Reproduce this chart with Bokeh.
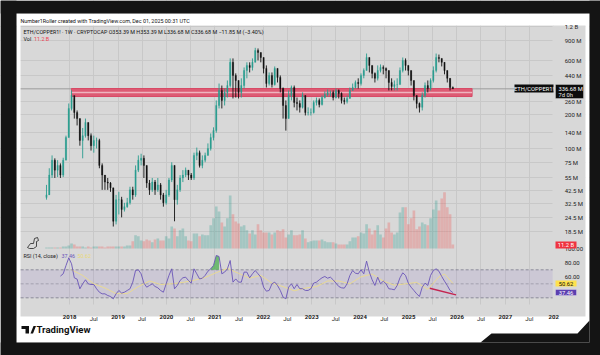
import numpy as np
import pandas as pd
from bokeh.embed import file_html
from bokeh.models import (BoxAnnotation, ColumnDataSource, FixedTicker, Label, LinearAxis, LinearScale,
                          PolyAnnotation, Range1d)
from bokeh.plotting import figure
from bokeh.resources import INLINE

HEADER = "Number1Roller created with TradingView.com, Dec 01, 2025 00:31 UTC"
LEGEND = "ETH/COPPER1! · 1W · CRYPTOCAP  O353.39 M  H353.39 M  L336.68 M  C336.68 M  −11.85 M (−3.40%)"

# Three-weekly bars, prices in millions
closes = [39, 58.3, 79, 64.5, 71, 58.3, 79, 125, 226, 294,
          208, 184, 118, 130, 170, 130, 106, 118, 118, 71,
          58.3, 50.6, 49.6, 45, 22.8, 35.4, 35.4, 29, 30.7, 33.2,
          43.2, 39, 64.5, 79, 82, 71, 49.6, 43.2, 50.6, 43.2,
          47.8, 39, 33.2, 39, 52.8, 71, 35.4, 43.2, 55, 58.3,
          64.5, 58.3, 55, 87, 92, 71, 79, 87, 100, 125,
          144, 240, 326, 266, 313, 360, 577, 442, 399, 313,
          360, 489, 542, 520, 577, 734, 705, 637, 510, 375,
          442, 367, 510, 425, 339, 240, 184, 294, 346, 255,
          250, 231, 294, 208, 208, 208, 255, 266, 245, 282,
          300, 313, 313, 282, 326, 307, 266, 260, 277, 326,
          346, 383, 375, 442, 489, 637, 542, 461, 417, 489,
          520, 510, 489, 383, 353, 367, 367, 489, 600, 542,
          489, 399, 294, 250, 231, 294, 360, 339, 399, 489,
          637, 625, 577, 489, 417, 346, 336.68]
highs = [47.8, 67, 87, 82, 79, 74, 83, 130, 250, 326,
         277, 217, 184, 152, 184, 170, 136, 130, 125, 122,
         74, 58.3, 55, 50.6, 45, 39, 41.5, 37.5, 33.2, 36.7,
         46, 46, 71, 87, 90, 87, 71, 52.8, 55, 52.8,
         55, 49.6, 40.6, 43.2, 55, 75.7, 71, 47.8, 58.3, 64.5,
         68, 64.5, 60.8, 92, 102, 96, 87, 92, 111, 136,
         154, 266, 375, 360, 339, 399, 625, 625, 461, 399,
         417, 520, 577, 577, 625, 775, 765, 705, 637, 542,
         470, 470, 531, 510, 442, 346, 266, 326, 360, 360,
         282, 266, 313, 294, 231, 226, 266, 282, 277, 294,
         320, 332, 326, 326, 339, 332, 313, 282, 294, 346,
         375, 399, 417, 461, 510, 690, 637, 542, 470, 542,
         553, 542, 520, 489, 417, 399, 417, 520, 637, 625,
         542, 489, 399, 294, 255, 313, 383, 399, 417, 531,
         690, 676, 625, 577, 489, 417, 353.39]
lows = [35.4, 39, 55, 55, 56, 55, 56, 79, 125, 217,
        184, 160, 106, 82, 125, 118, 96, 92, 100, 67,
        43.2, 43.2, 43.2, 41.5, 20.5, 21.4, 26.2, 24.7, 27.8, 30,
        32, 35.4, 37.5, 62, 71, 55, 45, 39, 41.5, 39,
        41.5, 35.4, 30.7, 32, 37.5, 50.6, 22.8, 32, 41.5, 50.6,
        56, 52.8, 52.8, 52.8, 79, 68, 67, 75.7, 87, 96,
        118, 138, 226, 226, 240, 282, 346, 277, 282, 277,
        282, 339, 417, 470, 489, 577, 600, 577, 461, 346,
        360, 346, 360, 383, 313, 184, 144, 184, 266, 231,
        217, 208, 226, 196, 196, 196, 204, 240, 231, 240,
        277, 288, 288, 266, 277, 277, 250, 245, 250, 277,
        326, 339, 339, 360, 417, 489, 470, 417, 383, 399,
        470, 452, 417, 326, 326, 326, 326, 367, 470, 489,
        442, 360, 266, 226, 208, 217, 282, 313, 326, 383,
        470, 577, 531, 452, 383, 326, 336.68]
# Volume per bar, billions
volumes = [2.8, 2.8, 2.8, 2.8, 2.8, 2.8, 5.6, 5.6, 8.5, 14, 11.3,
           5.6, 5.6, 5.6, 2.8, 5.6, 2.8, 5.6, 5.6, 5.6, 5.6, 2.8, 5.6, 5.6,
           5.6, 5.6, 5.6, 5.6, 5.6, 8.5, 8.5, 20, 37, 34, 22.6, 20, 25, 22.6, 17, 25,
           28, 22.6, 22.6, 34, 28, 62, 56, 34, 51, 56, 34, 22.6, 20, 42, 42, 34, 39.5, 37, 37, 65,
           85, 118, 104, 73, 62, 85, 149, 96, 76, 70.5, 62, 65, 51, 42, 51, 39.5, 68, 51, 45, 45,
           45, 39.5, 45, 51, 48, 54, 31, 39.5, 51, 37, 37, 39.5, 51, 28, 17, 20, 22.6, 22.6, 22.6, 25,
           20, 17, 17, 17, 14, 11.3, 11.3, 11.3, 11.3, 20, 31, 31, 34, 45, 42, 68, 56, 39.5, 51, 65,
           39.5, 31, 56, 73, 45, 39.5, 45, 101, 116, 116, 68, 85, 107, 54, 62, 73, 68, 65, 85, 110,
           135, 107, 141, 158, 116, 96, 11.28]
# RSI(14) from bar index 5 on
rsi_values = [61, 64.3, 76, 87, 78.6, 58.6, 56.7, 42.9, 50, 55.7, 50, 49, 49, 42.9, 38, 35.7, 35.7, 33.3, 31.9,
              28.6, 35.7, 40.5, 36.7, 38, 40.5, 42.9, 52.4, 69, 70, 64.3, 51, 45.2, 47.6, 50, 46.2, 44.3,
              40.5, 38, 50, 62, 71.4, 42.9, 47.6, 54.8, 58.6, 59.5, 54.8, 51, 71.4, 64.3, 57, 58, 62, 68,
              71.4, 76.2, 90.5, 89, 64.3, 66.7, 71.4, 83.3, 52.4, 57, 52.4, 52.4, 66.7, 66.7, 58.6, 64.3,
              69, 64.3, 59.5, 45.2, 39.5, 40.5, 50, 52.4, 47.6, 40.5, 31, 28.6, 45.2, 50, 43, 49, 43, 43,
              40.5, 40.5, 42.9, 51, 52.4, 55.7, 58.6, 60.5, 58, 59.5, 55.7, 51, 46.2, 44.3, 43.8, 50, 62,
              69, 65.2, 64.3, 70, 64.3, 82.4, 66.7, 55.7, 47.6, 59.5, 50, 53.8, 50, 42.9, 42.4, 41.4, 47.6,
              58.6, 65.7, 62, 51, 45.2, 40.5, 35.7, 31.9, 45.2, 51, 47.6, 62, 69, 71.4, 68, 60.5, 53.8, 47.6,
              40.5, 37.46]
rsi_ma_index = [9, 13, 17, 21, 25, 29, 33, 37, 41, 45, 49, 53, 57, 61, 65, 69, 73, 77, 81, 85, 89, 93, 97,
                101, 105, 109, 113, 117, 121, 125, 129, 133, 137, 141, 143, 146]
rsi_ma_values = [70, 62, 50, 44, 36, 36, 46, 54, 49, 50, 52, 55, 59, 66, 72, 65, 58, 62, 51, 46, 40, 44, 46,
                 54, 54, 50, 60, 64, 54, 48, 50, 52, 42, 60, 64, 50.62]
trend_dates = ["2025-06-10", "2025-12-25"]
trend_rsi = [43.7, 34.3]
zone_left, zone_right = "2018-01-14", "2026-04-25"
zone_top, zone_mid, zone_bottom = 339, 313, 288
last_price = 336.68
price_ticks = [1200, 900, 600, 440, 260, 200, 140, 100, 75, 55, 42.5, 32.5, 24.5, 18.5]
price_labels = ["1.2 B", "900 M", "600 M", "440 M", "260 M", "200 M", "140 M", "100 M", "75 M", "55 M",
                "42.5 M", "32.5 M", "24.5 M", "18.5 M"]
years = [2018, 2019, 2020, 2021, 2022, 2023, 2024, 2025, 2026, 2027, 2028]
jul_years = [2018, 2019, 2020, 2021, 2022, 2023, 2024, 2025, 2026, 2027]
rsi_ticks = [100, 80, 60]

FONT = "Roboto"
INK = "#1c1c1c"
DARK = "#141414"
GRID = "#c8c8c8"
PANEL = "#d8d8d8"
TEAL = "#2a9d8f"
DOWN = "#121212"
W, H = 600, 355
PLOT_L, PLOT_R = 20, 552     # chart area on the page
PLOT_T, PLOT_B = 25, 304
CARD_L, CARD_R, CARD_T, CARD_B = 16, 589, 13, 342
PANEL_R, PANEL_B = 585, 316


def ms(d):
    return int(pd.Timestamp(d).timestamp() * 1000)


dates = pd.date_range(end="2025-12-01", periods=len(closes), freq="21D")
t = np.array([ms(d) for d in dates], dtype=float)
opens = [closes[0] * 0.95] + closes[:-1]
up = [c >= o for c, o in zip(closes, opens)]
bar_w = 21 * 86400000

year_ms = [ms(f"{y}-01-01") for y in years]
jul_ms = [ms(f"{y}-07-01") for y in jul_years]
date_l, date_r = ms("2016-12-27"), ms("2027-12-24")

p = figure(width=W, height=H, x_axis_type="datetime", y_axis_type="log", y_axis_location="right",
           x_range=Range1d(ms("2016-07-28"), ms("2028-12-19")), y_range=Range1d(1.49, 2028),
           output_backend="svg", toolbar_location=None, min_border=0, min_border_left=0, min_border_right=0,
           min_border_top=0, min_border_bottom=0, border_fill_color=DARK, background_fill_color=PANEL,
           outline_line_color=None)
p.extra_y_ranges = {"vol": Range1d(-302, 699), "rsi": Range1d(-52.4, 454.7)}
p.extra_y_scales = {"vol": LinearScale(), "rsi": LinearScale()}

p.xgrid.ticker = FixedTicker(ticks=year_ms + jul_ms)
p.xgrid.grid_line_color = GRID
p.ygrid.ticker = FixedTicker(ticks=price_ticks)
p.ygrid.grid_line_color = GRID


def style_axis(a, size="6px"):
    a.axis_line_color = None
    a.major_tick_line_color = None
    a.minor_tick_line_color = None
    a.major_label_text_font = FONT
    a.major_label_text_font_size = size
    a.major_label_text_color = INK


ax = p.yaxis[0]
ax.ticker = FixedTicker(ticks=price_ticks)
ax.major_label_overrides = {(int(k) if float(k).is_integer() else k): v for k, v in zip(price_ticks, price_labels)}
ax.fixed_location = date_r
ax.major_label_standoff = 6
style_axis(ax)

rax = LinearAxis(y_range_name="rsi", ticker=FixedTicker(ticks=rsi_ticks),
                 major_label_overrides={k: f"{k}.00" for k in rsi_ticks}, fixed_location=date_r,
                 major_label_standoff=6)
style_axis(rax)
p.add_layout(rax, "right")

AXIS_Y = 4.2   # price level of the bottom edge of the RSI pane
xax = p.xaxis[0]
xax.ticker = FixedTicker(ticks=year_ms)
xax.major_label_overrides = {m: ("202" if y == 2028 else str(y)) for y, m in zip(years, year_ms)}
xax.fixed_location = AXIS_Y
xax.major_label_standoff = 4
style_axis(xax)
xax.major_label_text_font_style = "bold"
jax = LinearAxis(ticker=FixedTicker(ticks=jul_ms), major_label_overrides={m: "Jul" for m in jul_ms},
                 fixed_location=AXIS_Y, major_label_standoff=4)
style_axis(jax)
p.add_layout(jax, "below")


def box(l, r, tp, b, color, level="underlay", line=None):
    p.add_layout(BoxAnnotation(left=l, right=r, top=H - tp, bottom=H - b, left_units="screen", right_units="screen",
                               top_units="screen", bottom_units="screen", fill_color=color, fill_alpha=1,
                               line_color=line, level=level))


def text(x, y, s, size=5.4, color=INK, style="normal", align="left"):
    p.add_layout(Label(x=x, y=H - y, x_units="screen", y_units="screen", text=s, text_font=FONT,
                       text_font_size=f"{size}px", text_color=color, text_font_style=style, text_align=align,
                       text_baseline="middle", level="overlay"))


def poly(pts, fill=None, line=None, level="underlay"):
    p.add_layout(PolyAnnotation(xs=[a for a, _ in pts], ys=[H - b for _, b in pts], xs_units="screen",
                                ys_units="screen", fill_color=fill, fill_alpha=1 if fill else 0, line_color=line,
                                line_alpha=1 if line else 0, line_width=0.8, level=level))


# surroundings of the chart, painted over the grid
box(PLOT_R, PANEL_R, PLOT_T, PANEL_B, PANEL)
box(PLOT_L, PANEL_R, PLOT_B, PANEL_B, PANEL)
box(CARD_L, PLOT_L, CARD_T, CARD_B, "#ffffff")
box(PANEL_R, CARD_R, CARD_T, CARD_B, "#ffffff")
box(CARD_L, CARD_R, CARD_T, PLOT_T, "#ffffff")
box(CARD_L, CARD_R, PANEL_B, CARD_B, "#ffffff")
box(0, CARD_L, 0, H, DARK)
box(CARD_R, W, 0, H, DARK)
box(0, W, 0, CARD_T, DARK)
box(0, W, CARD_B, H, DARK)
poly([(480, 342), (491, 333), (577, 333), (589, 320), (589, 342)], fill=DARK)

# volume
vol_src = ColumnDataSource(dict(x=t, v=volumes, c=[TEAL if u else "#ef5350" for u in up]))
p.vbar(x="x", top="v", bottom=0, width=bar_w * 0.95, color="c", fill_alpha=0.3, line_alpha=0, source=vol_src,
       y_range_name="vol")

# price line and resistance zone
p.line([date_l, date_r], [last_price, last_price], line_color="#9c9c9c", line_width=1)
p.quad(left=[ms(zone_left)], right=[ms(zone_right)], top=[zone_top], bottom=[zone_bottom],
       fill_color="#dd5a73", line_color="#d84a66", line_width=1)
p.line([ms(zone_left), ms(zone_right)], [zone_mid, zone_mid], line_color="#efb4bf", line_width=1.6)

# candles
col = [TEAL if u else DOWN for u in up]
src = ColumnDataSource(dict(x=t, o=opens, c=closes, h=highs, l=lows, col=col))
p.segment(x0="x", x1="x", y0="l", y1="h", color="col", line_width=0.9, source=src)
p.vbar(x="x", top="o", bottom="c", width=bar_w * 0.46, fill_color="col", line_color="col", line_width=0.3, source=src)

# RSI
p.quad(left=[date_l], right=[date_r], top=[70], bottom=[30], fill_color="#7e57c2", fill_alpha=0.12, line_alpha=0,
       y_range_name="rsi")
for lvl in (70, 50, 30):
    p.line([date_l, date_r], [lvl, lvl], line_color="#6f7180", line_width=0.8, line_dash="3 2",
           line_alpha=0.9 if lvl != 50 else 0.55, y_range_name="rsi")
rsi_t = t[5:]
rsi_arr = np.array(rsi_values)
over = (rsi_arr > 70) & (rsi_t > ms("2020-11-01")) & (rsi_t < ms("2021-03-01"))
p.varea(x=rsi_t[over], y1=np.full(over.sum(), 70.0), y2=rsi_arr[over], fill_color="#4caf50", fill_alpha=0.75,
        y_range_name="rsi")
p.line(t[rsi_ma_index], rsi_ma_values, line_color="#ecdc8c", line_width=1, line_alpha=0.9, y_range_name="rsi")
p.line(rsi_t, rsi_values, line_color="#6a55b8", line_width=0.9, y_range_name="rsi")
p.line([ms(d) for d in trend_dates], trend_rsi, line_color="#c4234f", line_width=1.4, y_range_name="rsi")

# texts and tags
text(20, 20, HEADER, color="#111111")
text(23, 31, LEGEND, color="#111111")
text(23, 38.5, "Vol", color="#111111")
text(33.5, 38.5, "11.2 B", color="#ef4050")
box(514, 553, 84, 92, "#0c0c0c", level="overlay")
text(533.5, 88, "ETH/COPPER1!", size=5.8, color="#ffffff", align="center")
box(555, 583, 84, 98, "#0c0c0c", level="overlay", line="#ffffff")
text(558, 88, "336.68 M", size=5.8, color="#ffffff")
text(558, 94.5, "7d 0h", size=5.8, color="#e8e8e8")
box(555, 576, 241, 248, "#ef3340", level="overlay")
text(565.5, 244.6, "11.2 B", size=5.8, color="#ffffff", align="center")
poly([(27, 247), (30, 243), (33, 243), (34, 238), (37, 237), (38, 240), (36, 241), (36, 246), (33, 248), (29, 248)],
     line="#222222", level="annotation")
text(23, 255, "RSI (14, close)", size=5.4, color="#222222")
text(61, 255, "37.46", size=5.4, color="#6a55b8")
text(77, 255, "50.62", size=5.4, color="#e8d878")
box(555, 576, 280, 286, "#ffe14d", level="overlay")
text(565.5, 283, "50.62", size=5.8, color="#111111", align="center")
box(555, 576, 289, 295, "#5c3fb0", level="overlay", line="#ffffff")
text(565.5, 292, "37.46", size=5.8, color="#ffffff", align="center")

# footer logo and word mark
poly([(21, 325.5), (28.5, 325.5), (28.5, 333), (25, 333), (25, 328.5), (21, 328.5)], fill="#111111", level="annotation")
poly([(30, 333), (33, 325.5), (35.5, 325.5), (32.5, 333)], fill="#111111", level="annotation")
text(36, 329, "TradingView", size=9.6, color="#111111", style="bold")

open("out.html", "w").write(file_html(p, INLINE))
